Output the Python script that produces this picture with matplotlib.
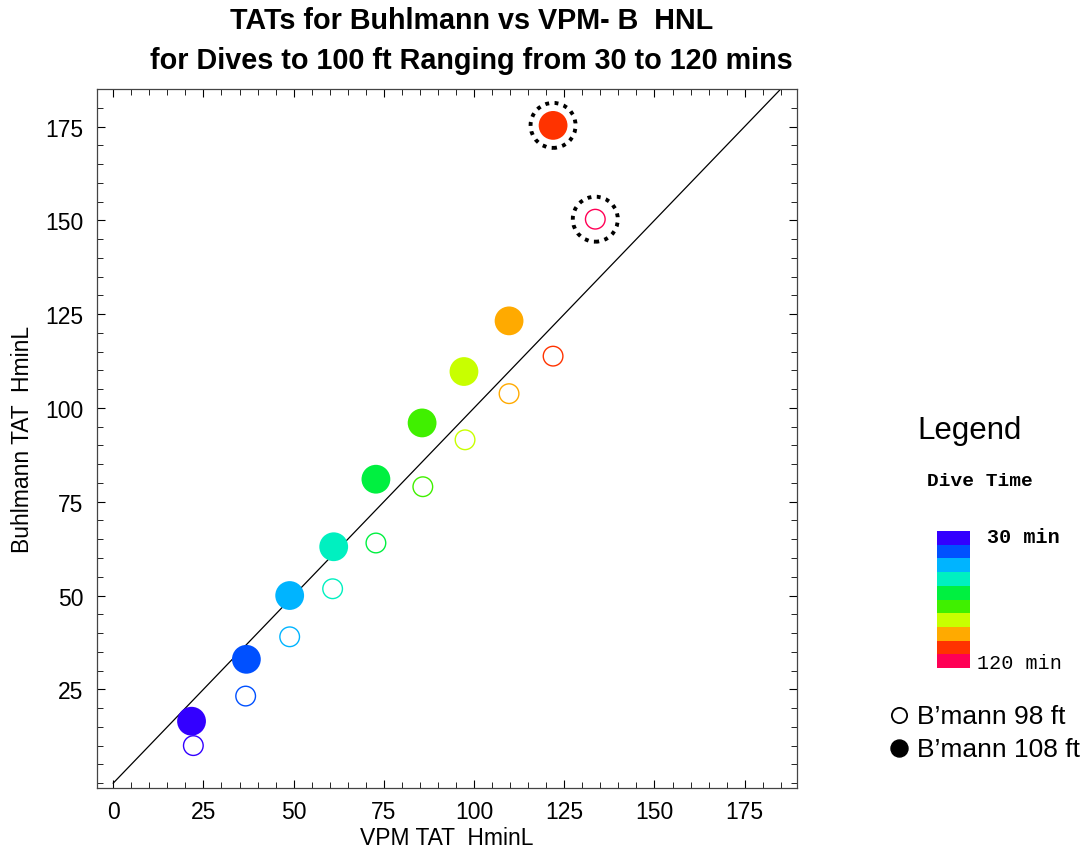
import matplotlib.pyplot as plt
import numpy as np

dive_times = [30, 40, 50, 60, 70, 80, 90, 100, 110, 120]
colors = ['#3300ff', '#0050ff', '#00b4ff', '#00f0c0', '#00f040',
          '#40f000', '#c8ff00', '#ffaa00', '#ff3300', '#ff0055']

# B'mann 108 ft (filled), no 120 min point
vpm_108 = [21.7, 36.9, 48.9, 61.1, 72.8, 85.6, 97.2, 109.7, 121.9]
buhl_108 = [16.5, 33.0, 50.0, 63.0, 81.0, 96.0, 109.7, 123.2, 175.3]

# B'mann 98 ft (open)
vpm_98 = [22.2, 36.7, 48.9, 60.8, 72.8, 85.8, 97.5, 109.7, 121.9, 133.6]
buhl_98 = [10.0, 23.2, 39.0, 51.8, 64.0, 79.0, 91.5, 103.8, 113.8, 150.3]

# circled outliers
circled_x = [121.9, 133.6]
circled_y = [175.3, 150.3]

plt.rcParams['font.family'] = ['Liberation Sans', 'DejaVu Sans']

fig = plt.figure(figsize=(10.87, 8.53), dpi=100)
ax = fig.add_axes([97 / 1087, 1 - 789 / 853, 700 / 1087, 699 / 853])

ax.plot([0, 190], [0, 190], color='black', lw=0.9, zorder=1)

ax.scatter(vpm_108, buhl_108, s=430, c=colors[:len(vpm_108)], edgecolors='none', zorder=3)
ax.scatter(vpm_98, buhl_98, s=200, facecolors='none', edgecolors=colors[:len(vpm_98)],
           linewidths=1.0, zorder=3)
ax.scatter(circled_x, circled_y, s=1050, facecolors='none', edgecolors='black',
           linewidths=2.8, linestyles=(0, (1, 1.4)), zorder=4)

ax.set_xlim(-4.5, 189.5)
ax.set_ylim(-1.3, 185)
ax.set_xticks(np.arange(0, 176, 25))
ax.set_yticks(np.arange(25, 176, 25))
ax.set_xticks(np.arange(0, 190, 5), minor=True)
ax.set_yticks(np.arange(0, 185, 5), minor=True)
ax.tick_params(which='both', direction='in', top=True, right=True, labelsize=16.5)
ax.tick_params(which='major', length=6, width=0.8)
ax.tick_params(which='minor', length=4, width=0.6)
ax.tick_params(axis='x', pad=9)
ax.tick_params(axis='y', pad=10)
for s in ax.spines.values():
    s.set_linewidth(0.9)
    s.set_color('#444444')

ax.set_xlabel('VPM TAT  HminL', fontsize=16.5, labelpad=2)
ax.set_ylabel('Buhlmann TAT  HminL', fontsize=16.5, labelpad=8)

fig.text(0.434, 0.975, 'TATs for Buhlmann vs VPM- B  HNL', ha='center', va='center',
         fontsize=20.7, fontweight='bold')
fig.text(0.434, 0.928, 'for Dives to 100 ft Ranging from 30 to 120 mins', ha='center',
         va='center', fontsize=20.7, fontweight='bold')

# legend
fig.text(970 / 1087, 1 - 431 / 853, 'Legend', ha='center', va='center', fontsize=22.5)
fig.text(980 / 1087, 1 - 482 / 853, 'Dive Time', ha='center', va='center', fontsize=14,
         family='Liberation Mono', fontweight='bold')
cax = fig.add_axes([937 / 1087, 1 - 669 / 853, 33 / 1087, 137 / 853])
for i, c in enumerate(colors):
    cax.bar(0, 1, bottom=len(colors) - 1 - i, width=1, color=c)
cax.set_xlim(-0.5, 0.5)
cax.set_ylim(0, len(colors))
cax.axis('off')
fig.text(987 / 1087, 1 - 538 / 853, '%d min' % dive_times[0], ha='left', va='center',
         fontsize=14.5, family='Liberation Mono', fontweight='bold')
fig.text(977 / 1087, 1 - 664 / 853, '%d min' % dive_times[-1], ha='left', va='center',
         fontsize=14.5, family='Liberation Mono')

lax = fig.add_axes([0, 0, 1, 1], facecolor='none')
lax.set_xlim(0, 1087)
lax.set_ylim(853, 0)
lax.axis('off')
lax.scatter([899], [716], s=120, facecolors='white', edgecolors='black', linewidths=1.3)
lax.scatter([899], [749], s=150, c='black')
lax.text(917, 717, "B\u2019mann 98 ft", ha='left', va='center', fontsize=19)
lax.text(917, 750, "B\u2019mann 108 ft", ha='left', va='center', fontsize=19)

fig.savefig('out.png', dpi=100)
